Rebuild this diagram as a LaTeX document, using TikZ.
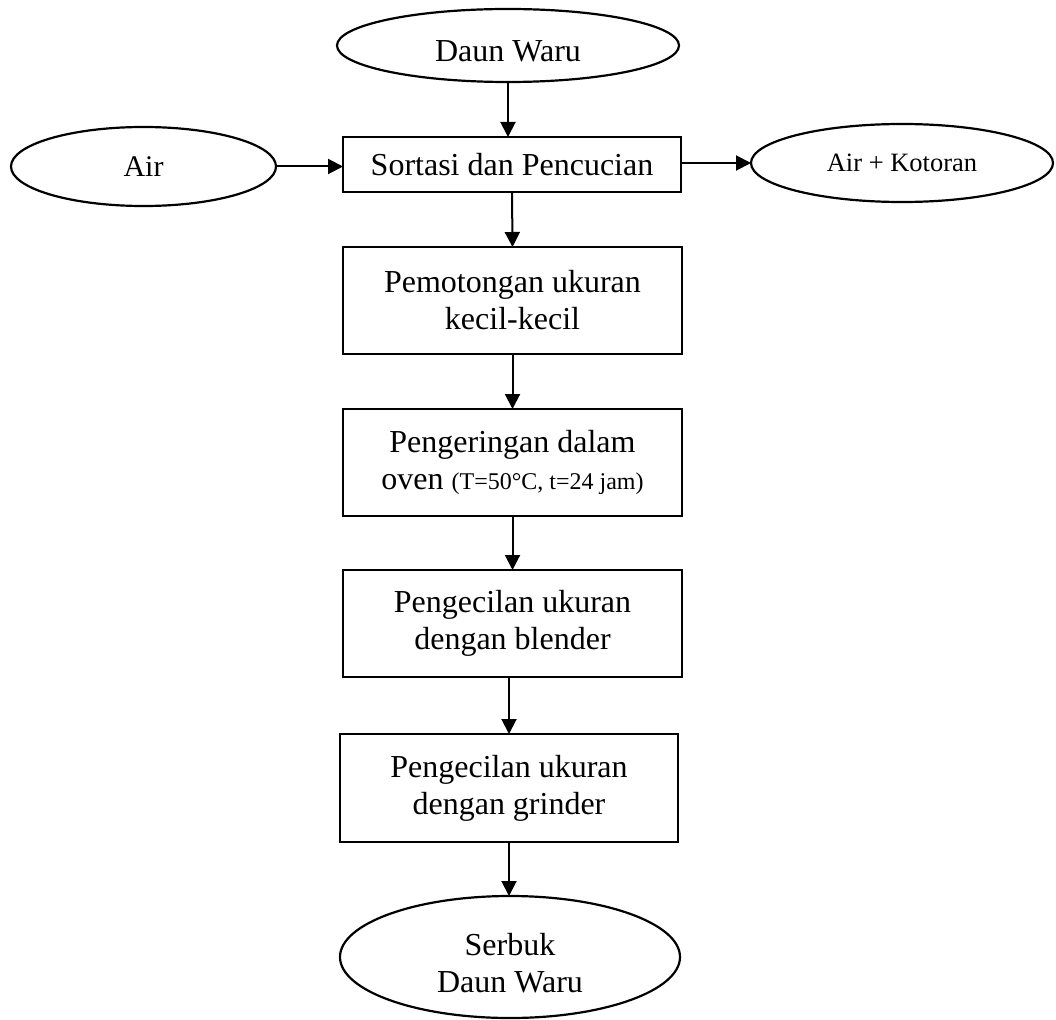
\documentclass[tikz,border=0pt]{standalone}
\usepackage{fontspec}
\setmainfont{Liberation Serif}
\usetikzlibrary{shapes.geometric,arrows.meta}
\begin{document}
\begin{tikzpicture}[x=1pt,y=-1pt,
  proc/.style={draw, line width=2.2pt, rectangle, inner sep=0pt, outer sep=0pt, align=center, font=\fontsize{32}{37}\selectfont},
  oval/.style={draw, line width=2.2pt, ellipse, inner sep=0pt, outer sep=0pt},
  txt/.style={align=center, inner sep=0pt, font=\fontsize{32}{37}\selectfont},
  arr/.style={line width=2pt, -{Triangle[length=15pt,width=15pt]}}]
\useasboundingbox (0,0) rectangle (1056,1019);

% ellipses
\node[oval, minimum width=342pt, minimum height=73pt] (dw) at (508,45.5) {};
\node[txt] (dwt) at ([yshift=-6pt]dw.center) {Daun Waru};
\node[oval, minimum width=265pt, minimum height=79pt, font=\fontsize{30}{36}\selectfont] (air) at (143.5,166.5) {Air};
\node[oval, minimum width=302pt, minimum height=78pt, font=\fontsize{26.5}{32}\selectfont] (kot) at (902,163) {Air + Kotoran};
\node[oval, minimum width=340pt, minimum height=122pt] (serbuk) at (510,957) {};
\node[txt] (serbukt) at ([yshift=-6pt]serbuk.center) {Serbuk\\Daun Waru};

% process boxes
\node[proc, minimum width=338pt, minimum height=55pt] (sortasi) at (512,164.5) {Sortasi dan Pencucian};
\node[proc, minimum width=339pt, minimum height=107pt] (pem) at (512.5,300.5) {Pemotongan ukuran\\kecil-kecil};
\node[proc, minimum width=339pt, minimum height=107pt] (peng) at (512.5,462.5) {Pengeringan dalam\\oven {\fontsize{24}{37}\selectfont (T=50°C, t=24 jam)}};
\node[proc, minimum width=339pt, minimum height=107pt] (blend) at (512.5,623.5) {Pengecilan ukuran\\dengan blender};
\node[proc, minimum width=338pt, minimum height=108pt] (grind) at (509,788) {Pengecilan ukuran\\dengan grinder};

% connectors
\draw[arr] (dw.south) -- (dw.south |- sortasi.north);
\draw[arr] (air.east) -- (air.east -| sortasi.west);
\draw[arr] (sortasi.east |- kot.west) -- (kot.west);
\draw[arr] (sortasi.south) -- (pem.north);
\draw[arr] (pem.south) -- (peng.north);
\draw[arr] (peng.south) -- (blend.north);
\draw[arr] (grind.north |- blend.south) -- (grind.north);
\draw[arr] (grind.south) -- (grind.south |- serbuk.north);
\end{tikzpicture}
\end{document}
